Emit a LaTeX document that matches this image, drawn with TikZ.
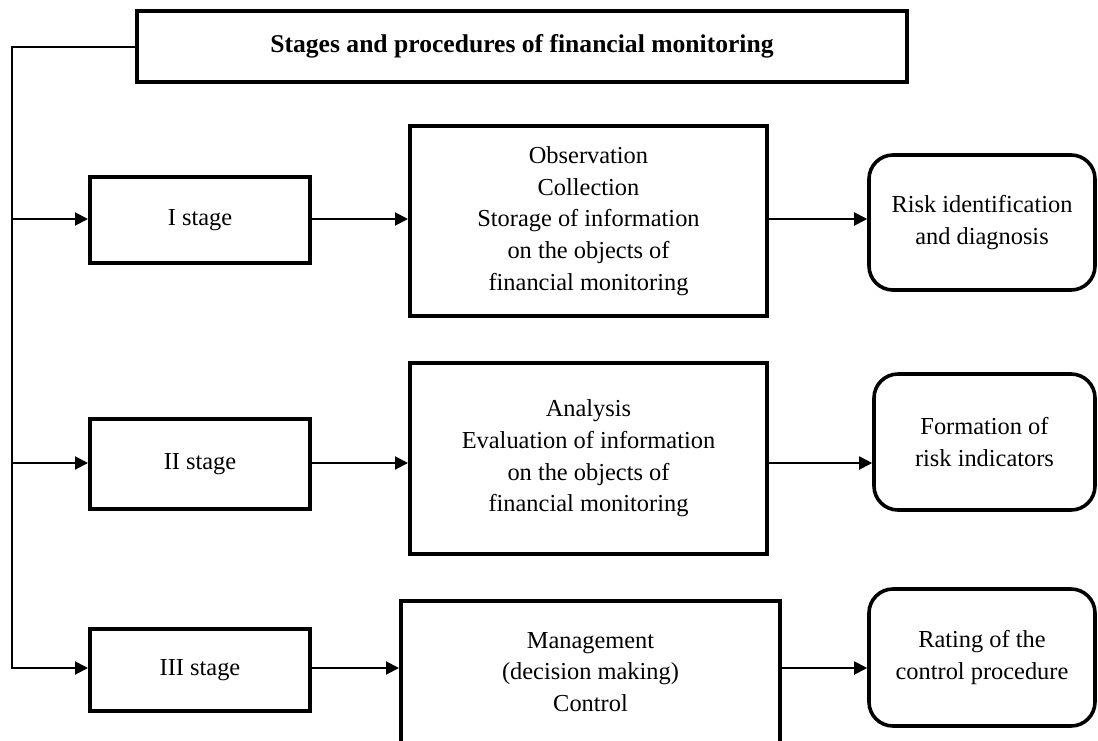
\documentclass[tikz,border=0pt]{standalone}
\usepackage{fontspec}
\setmainfont{Liberation Serif}
\usepackage{tikz}
\usetikzlibrary{positioning, arrows.meta}
\newcommand{\Neg}[1]{\textbf{#1}}

\begin{document}
\begin{tikzpicture}[x=0.5pt, y=-0.5pt,
    caja/.style={draw, line width=2pt, align=center, inner sep=2pt,
        font=\fontsize{12.2}{15.8}\selectfont},
    etapa/.style={caja, minimum width=110pt},
    proceso/.style={caja},
    resultado/.style={caja, rounded corners=12pt, line width=1.8pt},
    flecha/.style={line width=1pt, -{Triangle[length=6.5pt,width=6.5pt]}},
    linea/.style={line width=1pt}]
        \useasboundingbox (0,0) rectangle (1098,740);
        % Título
        \node[caja, minimum width=385pt, minimum height=35.5pt,
            font=\fontsize{12.8}{15.8}\selectfont] (titulo) at (522,46.5)
            {\Neg{Stages and procedures of financial monitoring}};
        % Etapas
        \node[etapa, minimum height=43pt] (etapa1) at (200,220) {I stage};
        \node[etapa, minimum height=45pt] (etapa2) at (200,464) {II stage};
        \node[etapa, minimum height=41pt] (etapa3) at (200,670) {III stage};
        % Procedimientos
        \node[proceso, minimum width=178.5pt, minimum height=95pt] (proc1) at (588.5,221)
            {Observation\\Collection\\Storage of information\\on the objects of\\financial monitoring};
        \node[proceso, minimum width=178.5pt, minimum height=95.5pt] (proc2) at (588.5,458.5)
            {Analysis\\Evaluation of information\\on the objects of\\financial monitoring};
        \node[proceso, minimum width=189.5pt, minimum height=71pt] (proc3) at (590.5,672)
            {Management\\(decision making)\\Control};
        % Resultados
        \node[resultado, minimum width=113pt, minimum height=67.5pt] (res1) at (982,222.5)
            {Risk identification\\and diagnosis};
        \node[resultado, minimum width=110.5pt, minimum height=68pt] (res2) at (984.5,442)
            {Formation of\\risk indicators};
        \node[resultado, minimum width=113pt, minimum height=68.5pt] (res3) at (982,657.5)
            {Rating of the\\control procedure};
        % Línea vertical
        \coordinate (eje) at (12,46.5);
        \draw[flecha] (titulo.west) -- (eje) |- (etapa3.west |- 0,668);
        \draw[flecha] (eje |- 0,219) -- (etapa1.west |- 0,219);
        \draw[flecha] (eje |- 0,463) -- (etapa2.west |- 0,463);
        % Flechas horizontales
        \foreach \i/\y in {1/219, 2/463, 3/668} {
            \draw[flecha] (etapa\i.east |- 0,\y) -- (proc\i.west |- 0,\y);
            \draw[flecha] (proc\i.east |- 0,\y) -- (res\i.west |- 0,\y);
        }
    \end{tikzpicture}
\end{document}
